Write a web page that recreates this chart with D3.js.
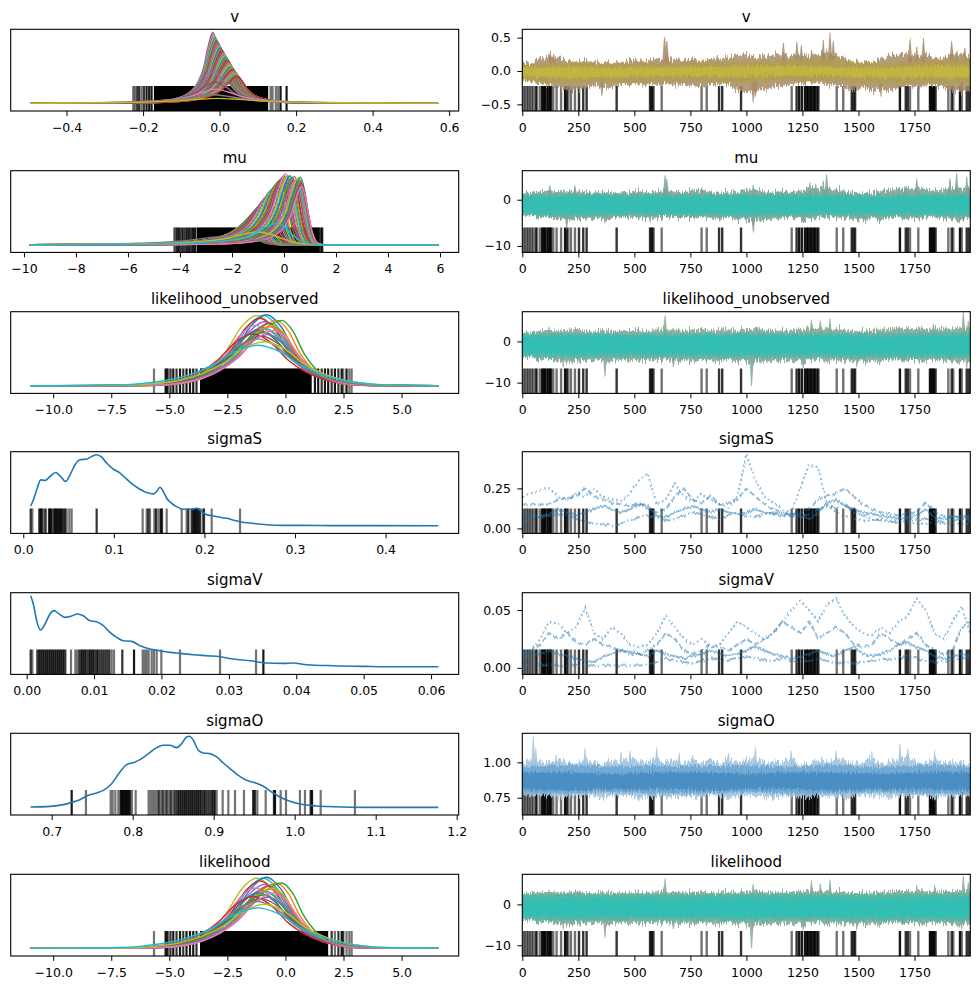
<!DOCTYPE html>
<html><head><meta charset="utf-8">
<script src="https://cdn.jsdelivr.net/npm/d3@7"></script>
<style>body{margin:0;background:#fff}text{font-family:"DejaVu Sans",sans-serif;fill:#000}</style>
</head><body>
<svg id="c" width="980" height="989"></svg>
<script>
// ---------------- DATA ----------------
const titles = ["v","mu","likelihood_unobserved","sigmaS","sigmaV","sigmaO","likelihood"];
const traceXTicks = [0,250,500,750,1000,1250,1500,1750];

// divergent draws (iteration, number of overlapping chains)
const divIter = [5,12,20,27,34,42,49,60,66,79,89,95,101,109,116,124,128,138,153,173,191,198,205,217,235,253,272,287,421,570,577,585,622,800,823,878,892,976,1202,1224,1235,1247,1261,1270,1276,1285,1291,1300,1306,1315,1321,1403,1432,1470,1478,1485,1685,1711,1720,1730,1767,1819,1825,1831,1837,1844,1901,1916,1923,1953,1961,1983,1993];
const divCount = [1,1,1,1,1,1,1,2,1,1,3,3,3,2,3,3,2,1,1,1,3,2,1,1,1,2,2,2,2,2,3,2,1,1,1,2,2,2,1,2,3,3,3,3,3,3,3,3,3,2,2,1,1,2,2,2,3,2,2,1,1,3,3,3,3,2,1,2,1,3,1,2,2];

// trace envelope grids
const traceIter = [0,40,80,120,160,200,240,280,320,360,400,440,480,520,560,600,640,680,720,760,800,840,880,920,960,1000,1040,1080,1120,1160,1200,1240,1280,1320,1360,1400,1440,1480,1520,1560,1600,1640,1680,1720,1760,1800,1840,1880,1920,1960,1999];
const coreIter = [0,200,400,600,800,1000,1200,1400,1600,1800,1999];

// v trace
const vOuterUpper = [0.11,0.12,0.18,0.22,0.2,0.15,0.14,0.15,0.14,0.12,0.14,0.13,0.15,0.14,0.16,0.18,0.2,0.18,0.16,0.17,0.15,0.18,0.2,0.22,0.25,0.25,0.2,0.22,0.25,0.25,0.22,0.25,0.22,0.25,0.3,0.22,0.18,0.12,0.14,0.13,0.2,0.22,0.25,0.25,0.22,0.25,0.2,0.2,0.25,0.25,0.22];
const vOuterLower = [-0.12,-0.13,-0.2,-0.22,-0.25,-0.28,-0.3,-0.25,-0.22,-0.25,-0.25,-0.2,-0.2,-0.19,-0.22,-0.2,-0.2,-0.22,-0.2,-0.22,-0.25,-0.2,-0.2,-0.22,-0.3,-0.32,-0.3,-0.28,-0.25,-0.22,-0.2,-0.18,-0.2,-0.18,-0.2,-0.22,-0.25,-0.3,-0.25,-0.3,-0.28,-0.3,-0.25,-0.22,-0.25,-0.22,-0.2,-0.25,-0.3,-0.3,-0.3];
const vMidUpper = [0.1,0.12,0.11,0.12,0.13,0.14,0.18,0.16,0.12,0.15,0.18];
const vMidLower = [-0.15,-0.18,-0.17,-0.16,-0.16,-0.18,-0.15,-0.16,-0.2,-0.18,-0.2];
const vCoreUpper = [0.05,0.06,0.05,0.06,0.06,0.07,0.08,0.06,0.05,0.07,0.08];
const vCoreLower = [-0.08,-0.1,-0.09,-0.08,-0.08,-0.09,-0.07,-0.08,-0.1,-0.09,-0.1];
const vSpikeIter = [125,140,635,645,1165,1225,1245,1290,1343,1373,1388,1730,1760,1790,1916,1940,1975];
const vSpikeVal = [0.3,0.27,0.52,0.45,0.42,0.44,0.4,0.3,0.45,0.57,0.45,0.47,0.35,0.49,0.45,0.3,0.35];
const vDipIter = [355,1030,1040,1600,1960];
const vDipVal = [-0.39,-0.46,-0.4,-0.38,-0.4];

// mu trace
const muOuterUpper = [1.4,1.5,1.8,2,1.9,1.8,2,1.6,1.5,1.8,1.4,1.6,1.5,2,1.6,1.8,2.2,1.8,1.6,2,2.2,1.6,1.5,1.8,1.6,2.2,2.2,1.8,1.6,2,1.5,2,2.5,2.5,2.5,2.2,1.8,1.5,1.4,1.6,2,2.2,2.3,2.5,2.5,2.3,2,2.2,2.5,2.5,2.5];
const muOuterLower = [-2.5,-3,-3.5,-3.8,-4,-4.5,-4,-4.2,-4,-4.5,-4,-3.5,-3.6,-3.8,-4.2,-4,-3.6,-3.8,-3.6,-3.8,-4,-3.8,-4.2,-3.8,-4.2,-4.5,-4.8,-4.5,-4,-3.8,-3.6,-4.2,-4.5,-4,-3.6,-3.8,-4,-4.2,-4.5,-4,-4.2,-4,-3.8,-4,-4.2,-3.6,-3.8,-4,-4.2,-4.5,-4];
const muMidUpper = [1.2,1.3,1.2,1.3,1.2,1.3,1.3,1.2,1.2,1.3,1.3];
const muMidLower = [-3.5,-3.7,-3.6,-3.5,-3.6,-3.8,-3.6,-3.6,-3.7,-3.6,-3.7];
const muCoreUpper = [0.7,0.8,0.7,0.8,0.7,0.8,0.8,0.7,0.7,0.8,0.8];
const muCoreLower = [-2.8,-3,-2.9,-2.8,-2.9,-3.1,-2.9,-2.9,-3,-2.9,-3];
const muSpikeIter = [123,235,637,645,800,1030,1283,1310,1343,1358,1708,1760,1908,1938,1983];
const muSpikeVal = [3.2,3.0,5.4,4.5,2.9,3.2,3.9,3.5,3.9,5.7,3.0,4.3,4.6,5.7,5.0];
const muDipIter = [198,369,570,882,1031,1254,1500,1968];
const muDipVal = [-6.4,-5,-4.8,-4.6,-7.1,-5,-5,-4.8];

// likelihood_unobserved trace
const luOuterUpper = [2,2.2,2.6,2.8,2.5,2.8,3,2.5,2.2,2.8,2.4,2.6,2.5,2.8,2.4,2.8,3,2.8,2.5,2.8,3,2.6,2.8,3,2.5,3,3,2.8,2.5,2.8,2.6,3,3.2,3.2,3.2,3,2.8,2.5,2.6,2.8,3,3.2,3.2,3.2,3.2,3,3.2,3,3.2,3.2,3.2];
const luOuterLower = [-3.5,-4,-4.2,-4.5,-4.6,-5,-4.6,-4.8,-4.5,-5,-4.8,-4.5,-4.4,-4.6,-4.8,-4.5,-4.4,-5,-4.5,-4.6,-4.8,-4.5,-5,-4.6,-4.8,-5,-5.2,-5,-4.6,-4.5,-4.6,-5,-4.8,-4.5,-4.6,-4.5,-4.8,-5,-4.8,-5,-4.6,-4.5,-4.7,-4.5,-4.6,-4.8,-4.5,-4.6,-4.8,-5,-5];
const luMidUpper = [1.9,2,1.9,2,2,2.1,2,2.1,2,2.2,2.2];
const luMidLower = [-3.8,-4,-3.9,-3.9,-4,-4.1,-3.9,-4,-4.1,-4,-4.1];
const luCoreUpper = [1.2,1.3,1.2,1.3,1.3,1.4,1.3,1.3,1.2,1.4,1.3];
const luCoreLower = [-2.9,-3.1,-3,-3,-3.1,-3.2,-3,-3.1,-3.2,-3.1,-3.2];
const luSpikeIter = [120,637,1050,1290,1330,1373,1834,1968,1990];
const luSpikeVal = [3.5,6.4,3.5,5,5,5.5,4.3,6.8,5];
const luDipIter = [183,369,674,1023,1254,1492,1983];
const luDipVal = [-6.3,-8.4,-6.2,-10.8,-6.5,-6,-6.5];

// likelihood trace
const lkOuterUpper = [2.7,2.8,3,3.1,2.8,3,3.1,2.8,2.7,3,2.8,2.8,2.7,3,2.8,3,3.2,3,2.8,3,3.1,2.8,3,3.1,2.8,3.2,3.2,3,2.8,3.1,2.8,3.2,3.3,3.3,3.3,3.1,3,2.8,2.8,3,3.1,3.3,3.2,3.3,3.3,3.2,3.3,3.1,3.3,3.3,3.3];
const lkOuterLower = [-3.5,-4,-4.2,-4.5,-4.6,-5,-4.6,-4.8,-4.5,-5,-4.8,-4.5,-4.4,-4.6,-4.8,-4.5,-4.4,-5,-4.5,-4.6,-4.8,-4.5,-5,-4.6,-4.8,-5,-5.2,-5,-4.6,-4.5,-4.6,-5,-4.8,-4.5,-4.6,-4.5,-4.8,-5,-4.8,-5,-4.6,-4.5,-4.7,-4.5,-4.6,-4.8,-4.5,-4.6,-4.8,-5,-5];
const lkMidUpper = [2.5,2.6,2.5,2.6,2.6,2.6,2.6,2.6,2.5,2.6,2.6];
const lkMidLower = [-3.8,-4,-3.9,-3.9,-4,-4.1,-3.9,-4,-4.1,-4,-4.1];
const lkCoreUpper = [1.5,1.6,1.5,1.6,1.6,1.7,1.6,1.6,1.5,1.7,1.6];
const lkCoreLower = [-2.9,-3.1,-3,-3,-3.1,-3.2,-3,-3.1,-3.2,-3.1,-3.2];
const lkSpikeIter = [120,637,1030,1290,1330,1373,1760,1840,1968,1990];
const lkSpikeVal = [3.5,6.4,5,5.6,5,6,4.5,4.5,6.8,5.5];
const lkDipIter = [183,369,674,1023,1254,1492,1960];
const lkDipVal = [-6,-8,-6,-10.8,-6.2,-6,-6.2];

// sigmaO trace
const soOuterUpper = [0.98,1.02,1.0,1.0,1.02,1.0,0.99,1.02,1.0,0.99,1.02,1.0,1.03,1.0,1.01,1.03,1.0,1.02,0.99,1.02,1.0,1.02,0.99,1.03,1.0,1.02,1.03,0.99,1.01,1.0,1.03,0.98,0.99,1.02,1.0,1.03,1.01,0.99,1.0,1.03,0.99,1.0,1.02,1.04,1.0,0.99,1.03,1.0,0.99,1.0,0.98];
const soOuterLower = [0.77,0.76,0.76,0.77,0.75,0.76,0.76,0.77,0.76,0.75,0.76,0.76,0.77,0.75,0.76,0.76,0.76,0.77,0.75,0.76,0.76,0.77,0.76,0.75,0.76,0.77,0.76,0.76,0.75,0.76,0.76,0.75,0.76,0.77,0.76,0.76,0.75,0.76,0.77,0.76,0.76,0.75,0.76,0.76,0.77,0.76,0.75,0.76,0.76,0.77,0.76];
const soMidUpper = [0.97,0.98,0.97,0.98,0.97,0.98,0.97,0.98,0.97,0.98,0.97];
const soMidLower = [0.78,0.78,0.79,0.78,0.78,0.79,0.78,0.78,0.79,0.78,0.78];
const soCoreUpper = [0.93,0.93,0.92,0.93,0.93,0.92,0.93,0.93,0.92,0.93,0.93];
const soCoreLower = [0.81,0.8,0.81,0.81,0.8,0.81,0.81,0.8,0.81,0.81,0.8];
const soSpikeIter = [49,60,150,280,440,480,600,700,760,920,1040,1200,1400,1560,1685,1720,1840];
const soSpikeVal = [1.18,1.1,1.05,1.1,1.08,1.08,1.1,1.07,1.05,1.08,1.1,1.08,1.08,1.08,1.13,1.1,1.08];
const soDipIter = [160,360,520,920,1120,1440,1640,1840];
const soDipVal = [0.72,0.73,0.72,0.73,0.73,0.73,0.73,0.73];

// sigmaS chains
const sS1 = [0.2,0.22,0.24,0.25,0.2,0.18,0.22,0.2,0.25,0.2,0.18,0.17,0.22,0.3,0.34,0.15,0.18,0.28,0.2,0.17,0.22,0.18,0.15,0.13,0.2,0.46,0.3,0.2,0.16,0.12,0.1,0.25,0.4,0.38,0.15,0.1,0.08,0.06,0.05,0.05,0.06,0.05,0.05,0.04,0.03,0.03,0.03,0.03,0.03,0.03,0.03];
const sS2 = [0.15,0.15,0.15,0.15,0.18,0.19,0.2,0.25,0.2,0.18,0.16,0.15,0.14,0.16,0.12,0.1,0.12,0.2,0.25,0.18,0.16,0.2,0.15,0.16,0.18,0.25,0.2,0.15,0.12,0.1,0.09,0.1,0.12,0.18,0.2,0.22,0.25,0.2,0.15,0.12,0.1,0.09,0.08,0.09,0.1,0.16,0.1,0.08,0.07,0.08,0.07];
const sS3 = [0.1,0.08,0.07,0.09,0.12,0.1,0.08,0.1,0.12,0.14,0.12,0.1,0.12,0.15,0.14,0.08,0.07,0.1,0.12,0.14,0.12,0.1,0.12,0.1,0.09,0.1,0.12,0.1,0.09,0.08,0.09,0.08,0.06,0.1,0.16,0.18,0.14,0.12,0.1,0.09,0.08,0.07,0.06,0.07,0.08,0.12,0.07,0.06,0.08,0.06,0.07];
const sS4 = [0.05,0.06,0.07,0.08,0.09,0.08,0.06,0.04,0.03,0.025,0.02,0.03,0.05,0.07,0.08,0.07,0.05,0.06,0.08,0.1,0.09,0.07,0.06,0.08,0.09,0.08,0.07,0.09,0.1,0.09,0.08,0.07,0.09,0.12,0.14,0.13,0.15,0.1,0.08,0.06,0.05,0.04,0.04,0.06,0.05,0.06,0.05,0.04,0.05,0.06,0.05];
// sigmaV chains
const sV1 = [0.01,0.015,0.025,0.04,0.038,0.03,0.035,0.052,0.03,0.025,0.035,0.03,0.02,0.018,0.02,0.03,0.045,0.035,0.025,0.02,0.025,0.018,0.02,0.03,0.04,0.035,0.03,0.025,0.03,0.04,0.05,0.058,0.05,0.04,0.055,0.06,0.045,0.035,0.03,0.028,0.035,0.03,0.04,0.045,0.06,0.05,0.03,0.025,0.04,0.053,0.03];
const sV2 = [0.012,0.015,0.02,0.03,0.025,0.03,0.022,0.02,0.025,0.02,0.018,0.015,0.012,0.012,0.015,0.02,0.03,0.025,0.015,0.012,0.015,0.02,0.018,0.015,0.02,0.025,0.02,0.025,0.03,0.04,0.035,0.03,0.04,0.025,0.03,0.035,0.03,0.02,0.018,0.02,0.03,0.025,0.02,0.025,0.03,0.02,0.015,0.012,0.015,0.035,0.04];
const sV3 = [0.01,0.01,0.012,0.015,0.012,0.01,0.008,0.006,0.005,0.01,0.012,0.015,0.014,0.012,0.01,0.015,0.012,0.01,0.008,0.01,0.012,0.015,0.012,0.01,0.012,0.015,0.018,0.015,0.012,0.01,0.008,0.01,0.012,0.015,0.012,0.01,0.015,0.018,0.012,0.01,0.012,0.015,0.02,0.022,0.018,0.015,0.01,0.008,0.01,0.012,0.01];
const sV4 = [0.004,0.003,0.003,0.002,0.002,0.002,0.002,0.002,0.002,0.002,0.002,0.002,0.002,0.002,0.003,0.005,0.008,0.006,0.005,0.004,0.006,0.008,0.007,0.006,0.008,0.01,0.008,0.007,0.006,0.008,0.006,0.005,0.006,0.008,0.006,0.004,0.005,0.004,0.005,0.006,0.008,0.007,0.008,0.01,0.008,0.006,0.005,0.006,0.007,0.008,0.008];

// KDE single curves (x, relative density)
const sSkdeX = [0.0081,0.0111,0.0148,0.0192,0.0240,0.0295,0.0357,0.0405,0.0468,0.0516,0.0571,0.0626,0.0700,0.0755,0.0810,0.0865,0.0920,0.0994,0.1068,0.1141,0.1215,0.1288,0.1362,0.1436,0.1472,0.1509,0.1546,0.1583,0.1638,0.1693,0.1748,0.1804,0.1859,0.1914,0.1951,0.2006,0.2098,0.2245,0.2392,0.2540,0.2687,0.2871,0.3055,0.3423,0.3791,0.4582];
const sSkdeY = [0.278,0.363,0.505,0.646,0.637,0.693,0.750,0.703,0.623,0.717,0.858,0.929,0.939,0.976,1.0,0.967,0.882,0.797,0.741,0.656,0.575,0.514,0.467,0.448,0.481,0.542,0.481,0.387,0.316,0.269,0.236,0.231,0.231,0.245,0.222,0.165,0.137,0.104,0.057,0.033,0.014,0.005,0.005,0.002,0.001,0.0];
const sVkdeX = [0.00059,0.00099,0.00148,0.00208,0.00272,0.00346,0.00405,0.00469,0.00568,0.00667,0.00751,0.0084,0.00939,0.01038,0.01137,0.01236,0.01335,0.01434,0.01558,0.01681,0.0183,0.01978,0.02127,0.02275,0.02473,0.02671,0.02869,0.03067,0.03314,0.03561,0.03809,0.03957,0.04155,0.04551,0.05046,0.0554,0.06109];
const sVkdeY = [1.0,0.883,0.648,0.516,0.601,0.742,0.789,0.751,0.695,0.714,0.742,0.718,0.648,0.634,0.577,0.484,0.413,0.366,0.357,0.296,0.249,0.225,0.202,0.188,0.169,0.155,0.141,0.108,0.085,0.052,0.047,0.052,0.028,0.014,0.005,0.0,0.0];
const sOkdeX = [0.674,0.698,0.7144,0.7247,0.7349,0.7452,0.7555,0.7637,0.774,0.7843,0.7926,0.8008,0.809,0.8193,0.8296,0.8378,0.846,0.8543,0.8604,0.8666,0.8699,0.8749,0.881,0.8872,0.8954,0.9037,0.9119,0.9201,0.9304,0.9407,0.951,0.9613,0.9716,0.9819,0.9942,1.0066,1.0271,1.0477,1.0888,1.1773];
const sOkdeY = [0.005,0.014,0.038,0.07,0.108,0.169,0.202,0.239,0.333,0.498,0.601,0.629,0.671,0.756,0.84,0.873,0.873,0.84,0.897,0.99,1.0,0.944,0.803,0.765,0.756,0.709,0.624,0.545,0.451,0.38,0.347,0.296,0.216,0.146,0.085,0.047,0.019,0.009,0.0,0.0];

// KDE rugs (divergent sample values, overlap count)
const sSrug = [0.00813,0.00997,0.0177,0.01917,0.02064,0.02285,0.02469,0.02837,0.02948,0.03132,0.0339,0.03537,0.03684,0.03868,0.04052,0.04236,0.0442,0.04604,0.04788,0.05082,0.0534,0.081,0.1318,0.13622,0.13806,0.1399,0.14469,0.14653,0.14911,0.15168,0.15316,0.15831,0.17487,0.18039,0.18223,0.18591,0.18775,0.18959,0.19143,0.19327,0.19511,0.19806,0.19953,0.208,0.23928];
const sSrugN = [2,1,2,3,2,1,2,2,3,3,2,3,3,3,3,3,2,2,1,1,1,2,1,1,2,1,1,2,1,3,2,1,1,1,2,2,3,3,3,3,2,1,2,1,1];
const sVrug = [0.00059,0.00084,0.00158,0.00187,0.00217,0.00247,0.00277,0.00306,0.00336,0.00366,0.00395,0.00425,0.00455,0.00484,0.00514,0.00544,0.00573,0.00658,0.00722,0.00751,0.00781,0.00811,0.0084,0.0087,0.009,0.0093,0.00959,0.00989,0.01019,0.01048,0.01078,0.01108,0.01137,0.01167,0.01197,0.01226,0.01261,0.01296,0.01419,0.01593,0.01721,0.01751,0.0178,0.0181,0.01855,0.01889,0.01929,0.01998,0.02275,0.02869,0.03403,0.03512];
const sVrugN = [2,1,2,3,3,3,3,3,3,3,3,3,3,3,3,3,2,1,1,1,2,3,3,3,2,3,3,3,2,3,2,2,2,2,2,2,1,1,2,3,1,1,1,1,1,1,1,1,1,1,1,3];
const sOrug = [0.7247,0.7423,0.7728,0.7753,0.7786,0.7823,0.7851,0.7868,0.7884,0.7901,0.7917,0.7934,0.795,0.7967,0.7991,0.8037,0.8197,0.8222,0.8247,0.8271,0.8296,0.8321,0.8345,0.837,0.8395,0.8419,0.8444,0.8469,0.8493,0.8518,0.8543,0.8567,0.8592,0.8617,0.8642,0.8666,0.8691,0.8716,0.874,0.8765,0.879,0.8814,0.8839,0.8864,0.8888,0.8913,0.8938,0.8963,0.8987,0.9012,0.9037,0.9111,0.9181,0.9263,0.9374,0.9489,0.951,0.9539,0.9642,0.9744,0.9757,0.9827,0.9893,1.0065,1.0127,1.0197,1.0214,1.0321,1.0744];
const sOrugN = [3,1,1,1,1,1,3,3,3,3,3,3,3,2,1,1,1,1,1,1,1,2,1,2,1,2,1,2,1,2,2,3,3,3,3,3,3,3,3,3,3,3,3,2,3,2,2,2,3,3,1,1,1,1,1,3,2,1,1,2,3,1,1,1,1,2,3,1,1];
const vRug = [-0.2257,-0.2214,-0.2153,-0.2101,-0.2039,-0.1979,-0.1909,-0.184,-0.1778,0.1333,0.1385,0.1471,0.1532,0.1594,0.1751];
const vRugN = [1,1,2,2,1,2,3,3,3,1,1,1,1,3,3];
const vRugBlock = [-0.1717,0.127];
const muRug = [-4.22,-4.17,-4.12,-4.05,-3.98,-3.9,-3.82,-3.74,-3.66,-3.58,-3.5,-3.42,1.42,1.47];
const muRugN = [1,1,2,3,2,3,2,3,3,2,3,3,2,3];
const muRugBlock = [-3.36,1.38];
const luRug = [-5.66,-5.16,-5.1,-5.05,-4.95,-4.83,-4.69,-4.54,-4.4,-4.26,-4.11,-3.97,-3.83,1.27,1.41,1.56,1.7,1.84,1.99,2.13,2.28,2.42,2.49,2.63,2.75,2.85];
const luRugN = [1,3,2,1,2,3,2,3,2,3,3,3,2,3,3,2,3,3,2,3,2,3,1,3,1,1];
const luRugBlock = [-3.68,1.13];
const lkRug = [-5.66,-5.16,-5.1,-5.05,-4.95,-4.83,-4.69,-4.54,-4.4,-4.26,-4.11,-3.97,-3.83,1.99,2.13,2.28,2.42,2.49,2.63,2.75,2.85];
const lkRugN = [1,3,2,1,2,3,2,3,2,3,3,3,2,2,1,2,3,2,1,1,1];
const lkRugBlock = [-3.68,1.84];

// multi-component KDEs: peak location, peak height, half-widths (left/right)
const vPeakX = [-0.018,-0.017,-0.016,-0.015,-0.013,-0.012,-0.011,-0.01,-0.008,-0.007,-0.006,-0.004,-0.003,-0.002,0.0,0.001,0.002,0.004,0.005,0.006,0.008,0.009,0.011,0.012,0.013,0.015,0.016,0.018,0.019,0.02,0.022,0.023,0.025,0.026,0.027,0.029,0.03,0.032,0.033,0.034,0.036,0.037,0.038,0.04,0.041,0.042,0.043,0.044,0.045,0.046,-0.015,-0.012,-0.01,-0.018,-0.005];
const vPeakH = [1.0,0.98,0.97,0.95,0.94,0.93,0.91,0.9,0.88,0.87,0.86,0.84,0.83,0.82,0.8,0.79,0.78,0.76,0.75,0.74,0.72,0.71,0.7,0.68,0.67,0.66,0.64,0.63,0.62,0.6,0.59,0.58,0.56,0.55,0.54,0.52,0.51,0.5,0.48,0.47,0.46,0.45,0.44,0.43,0.42,0.41,0.4,0.4,0.39,0.38,0.45,0.3,0.2,0.12,0.07];
const vHalfL = [0.024,0.024,0.025,0.025,0.025,0.026,0.026,0.026,0.027,0.027,0.027,0.028,0.028,0.028,0.029,0.029,0.029,0.03,0.03,0.03,0.031,0.031,0.031,0.032,0.032,0.032,0.033,0.033,0.033,0.034,0.034,0.034,0.035,0.035,0.035,0.036,0.036,0.036,0.037,0.037,0.037,0.037,0.038,0.038,0.038,0.038,0.039,0.039,0.039,0.039,0.035,0.05,0.065,0.085,0.11];
const vHalfR = [0.026,0.026,0.026,0.026,0.026,0.026,0.026,0.027,0.027,0.027,0.027,0.027,0.027,0.027,0.027,0.027,0.027,0.027,0.028,0.028,0.028,0.028,0.028,0.028,0.028,0.028,0.028,0.028,0.028,0.028,0.028,0.028,0.028,0.028,0.028,0.028,0.028,0.028,0.028,0.028,0.028,0.028,0.028,0.028,0.028,0.028,0.028,0.028,0.028,0.028,0.035,0.05,0.065,0.085,0.11];
const muPeakX = [-1.6,-1.52,-1.45,-1.38,-1.3,-1.23,-1.16,-1.08,-1.0,-0.93,-0.86,-0.78,-0.7,-0.63,-0.55,-0.48,-0.4,-0.34,-0.28,-0.22,-0.16,-0.1,-0.05,0.0,0.05,0.1,0.14,0.19,0.23,0.28,0.32,0.36,0.4,0.44,0.47,0.5,0.53,0.56,0.59,0.61,0.63,0.64,0.65,0.66,0.67,-2.2,-1.0,-0.3];
const muPeakH = [0.19,0.21,0.24,0.27,0.31,0.35,0.39,0.43,0.48,0.52,0.56,0.6,0.65,0.69,0.73,0.77,0.8,0.83,0.86,0.89,0.91,0.93,0.95,0.97,1.0,0.96,0.98,0.94,0.97,0.92,0.95,0.9,0.96,0.88,0.93,0.9,0.94,0.86,0.92,0.88,0.95,0.84,0.9,0.87,0.82,0.12,0.18,0.3];
const muHalfL = [0.9,0.88,0.86,0.84,0.82,0.8,0.78,0.76,0.74,0.72,0.7,0.68,0.66,0.64,0.62,0.6,0.58,0.57,0.56,0.55,0.54,0.53,0.52,0.51,0.5,0.5,0.49,0.49,0.48,0.48,0.47,0.47,0.46,0.46,0.45,0.45,0.45,0.44,0.44,0.44,0.43,0.43,0.43,0.42,0.42,1.5,1.2,0.9];
const muHalfR = [0.5,0.5,0.49,0.48,0.47,0.46,0.45,0.44,0.43,0.42,0.41,0.4,0.39,0.38,0.37,0.36,0.35,0.34,0.33,0.32,0.34,0.33,0.33,0.32,0.32,0.32,0.31,0.31,0.31,0.3,0.3,0.3,0.3,0.3,0.29,0.29,0.29,0.29,0.29,0.28,0.28,0.28,0.28,0.28,0.28,1.3,0.9,0.6];
const lkPeakX = [-1.24,-0.96,-0.81,-0.38,-0.16,-1.1,-0.9,-0.7,-1.3,-1.0,-0.55,-0.85,-1.15,-0.65,-0.95,-1.4,-0.75,-1.05,-0.5,-1.2,-0.9,-1.17];
const lkPeakH = [0.99,0.99,1.0,0.92,0.92,0.95,0.9,0.88,0.85,0.82,0.85,0.8,0.78,0.83,0.75,0.73,0.72,0.7,0.78,0.66,0.62,0.57];
const lkHalfL = [1.3,1.3,1.35,1.6,1.7,1.3,1.35,1.4,1.3,1.4,1.5,1.4,1.45,1.45,1.5,1.5,1.55,1.6,1.55,1.7,1.8,2.0];
const lkHalfR = [1.35,1.25,1.2,1.0,0.95,1.3,1.25,1.15,1.4,1.3,1.1,1.3,1.4,1.2,1.4,1.5,1.3,1.5,1.15,1.6,1.7,1.85];
// KDE profile shapes (offset in half-widths, relative height)
const heavyOff = [0.5,1,1.6,2.3,3.2,4.5,6.5,9,13], heavyH = [0.8,0.5,0.3,0.18,0.1,0.05,0.02,0.006,0.001];
const gaussOff = [0.5,1,1.5,2,2.5,3], gaussH = [0.84,0.5,0.21,0.0625,0.013,0.002];
const midOff = [0.5,1,1.5,2,2.5,3,4,5.5], midH = [0.84,0.5,0.27,0.13,0.055,0.02,0.004,0.0005];

// ---------------- DRAWING ----------------
const tab10 = ["#1f77b4","#ff7f0e","#2ca02c","#d62728","#9467bd","#8c564b","#e377c2","#7f7f7f","#bcbd22","#17becf"];
const COLX = [10.7, 522.3], PW = 448, PH = 81.7;
const ROWY = [29.3,170.7,311.7,451.7,592.7,733.3,874.3];
const FS = 12.5, TFS = 15, RUGH = 25;
const svg = d3.select("#c");
const defs = svg.append("defs");
const minus = s => s.replace("-", "\u2212");

// jitter filters give the sampled traces their noisy texture (purely visual)
function jitterFilter(id, freq, scale, seed) {
  const f = defs.append("filter").attr("id", id).attr("x", "-2%").attr("y", "-40%")
    .attr("width", "104%").attr("height", "180%").attr("color-interpolation-filters", "sRGB");
  f.append("feTurbulence").attr("type", "fractalNoise").attr("baseFrequency", freq)
    .attr("numOctaves", 2).attr("seed", seed).attr("result", "t");
  f.append("feColorMatrix").attr("in", "t").attr("type", "matrix")
    .attr("values", "0 0 0 0 0.5  1 0 0 0 0  0 0 0 0 0  0 0 0 0 1").attr("result", "m");
  f.append("feDisplacementMap").attr("in", "SourceGraphic").attr("in2", "m").attr("scale", scale)
    .attr("xChannelSelector", "R").attr("yChannelSelector", "G");
}
jitterFilter("jagBig", "0.7 0.05", 14, 3);
jitterFilter("jagMid", "0.7 0.05", 9, 8);
jitterFilter("jagSpike", "0.5 0.02", 5, 11);
jitterFilter("jagLine", "0.6 0.1", 4.5, 5);

function makePanel(col, row) {
  const id = `clip${col}_${row}`;
  defs.append("clipPath").attr("id", id).append("rect").attr("width", PW).attr("height", PH);
  const g = svg.append("g").attr("transform", `translate(${COLX[col]},${ROWY[row]})`);
  const inner = g.append("g").attr("clip-path", `url(#${id})`);
  g.append("text").attr("x", PW/2).attr("y", -7.5).attr("text-anchor", "middle")
    .style("font-size", TFS + "px").text(titles[row]);
  return {g, inner};
}
function finishAxis(sel) {
  sel.select(".domain").remove();
  sel.selectAll(".tick line").attr("stroke", "#000").attr("stroke-width", 1);
  sel.selectAll(".tick text").style("font-size", FS + "px").style("font-family", '"DejaVu Sans",sans-serif').attr("fill", "#000");
}
function frame(g) {
  g.append("rect").attr("width", PW).attr("height", PH).attr("fill", "none").attr("stroke", "#000").attr("stroke-width", 1.1);
}
function xAxis(g, x, ticks, fmt) {
  const a = g.append("g").attr("transform", `translate(0,${PH})`)
    .call(d3.axisBottom(x).tickValues(ticks).tickFormat(fmt).tickSize(4.9).tickPadding(7.3));
  finishAxis(a);
}
const rugOpacity = n => 1 - Math.pow(0.45, n);

function curvePoints(px, ph, wl, wr, pL, pR, xmin, xmax) {
  const pts = [[xmin, 0]];
  for (let k = pL[0].length - 1; k >= 0; k--) {
    const xv = px - pL[0][k] * wl;
    if (xv > xmin) pts.push([xv, ph * pL[1][k]]);
  }
  pts.push([px, ph]);
  for (let k = 0; k < pR[0].length; k++) {
    const xv = px + pR[0][k] * wr;
    if (xv < xmax) pts.push([xv, ph * pR[1][k]]);
  }
  pts.push([xmax, 0]);
  return pts;
}

function kdePanel(row, cfg) {
  const {g, inner} = makePanel(0, row);
  const x = d3.scaleLinear().domain(cfg.xDomain).range([0, PW]);
  const y = d3.scaleLinear().domain([-0.108, 1.042]).range([PH, 0]);
  if (cfg.rugBlock) {
    inner.append("rect").attr("x", x(cfg.rugBlock[0])).attr("width", x(cfg.rugBlock[1]) - x(cfg.rugBlock[0]))
      .attr("y", PH - RUGH).attr("height", RUGH).attr("fill", "#000");
  }
  inner.selectAll("line.rug").data(cfg.rug).join("line").attr("class", "rug")
    .attr("x1", d => x(d)).attr("x2", d => x(d)).attr("y1", PH).attr("y2", PH - RUGH)
    .attr("stroke", "#000").attr("stroke-width", 2.2).attr("stroke-opacity", (d, i) => rugOpacity(cfg.rugN[i]));
  const line = d3.line().x(d => x(d[0])).y(d => y(d[1])).curve(d3.curveMonotoneX);
  if (cfg.single) {
    inner.append("path").attr("d", line(d3.zip(cfg.single[0], cfg.single[1])))
      .attr("fill", "none").attr("stroke", tab10[0]).attr("stroke-width", 1.6);
  } else {
    const m = cfg.multi, N = m.px.length;
    const shift = ((cfg.lastColor - (N - 1)) % 10 + 100) % 10;
    for (let i = 0; i < N; i++) {
      const pts = curvePoints(m.px[i], m.ph[i], m.wl[i], m.wr[i], cfg.profL, cfg.profR, cfg.dataRange[0], cfg.dataRange[1]);
      inner.append("path").attr("d", line(pts)).attr("fill", "none")
        .attr("stroke", tab10[(i + shift) % 10]).attr("stroke-width", 1.4);
    }
  }
  xAxis(g, x, cfg.ticks, (d, i) => minus(cfg.labels[i]));
  frame(g);
}

function tracePanel(row, cfg) {
  const {g, inner} = makePanel(1, row);
  const x = d3.scaleLinear().domain([0, 1999]).range([0, PW]);
  const y = d3.scaleLinear().domain(cfg.yDomain).range([PH, 0]);
  inner.selectAll("line.div").data(divIter).join("line").attr("class", "div")
    .attr("x1", d => x(d)).attr("x2", d => x(d)).attr("y1", PH).attr("y2", PH - RUGH)
    .attr("stroke", "#000").attr("stroke-width", 2.4).attr("stroke-opacity", (d, i) => rugOpacity(divCount[i]));
  if (cfg.bands) {
    const area = d3.area().x(d => x(d[0])).y0(d => y(d[1])).y1(d => y(d[2]));
    cfg.bands.forEach((b, k) => {
      if (k === 0 && cfg.spikes) {
        const sp = cfg.spikes;
        const sg = inner.append("g").attr("filter", "url(#jagSpike)");
        const tri = (it, v) => `M${x(it - 13)},${y(sp.base)}L${x(it - 2)},${y(v)}L${x(it + 2)},${y(v)}L${x(it + 13)},${y(sp.base)}Z`;
        sp.upIter.forEach((it, i) => sg.append("path").attr("d", tri(it, sp.upVal[i])).attr("fill", b.color).attr("fill-opacity", 0.85));
        sp.dnIter.forEach((it, i) => sg.append("path").attr("d", tri(it, sp.dnVal[i])).attr("fill", b.color).attr("fill-opacity", 0.85));
      }
      const bg = inner.append("g").attr("filter", k === 0 ? "url(#jagBig)" : "url(#jagMid)");
      bg.append("path").attr("d", area(d3.zip(b.iter, b.lo, b.hi))).attr("fill", b.color).attr("fill-opacity", b.op);
    });
  }
  if (cfg.chains) {
    const dashes = ["2 2.5", "5.5 2.4", null, "9.6 2.4 1.5 2.4"];
    const line = d3.line().x(d => x(d[0])).y(d => y(d[1]));
    const cg = inner.append("g").attr("filter", "url(#jagLine)");
    cfg.chains.forEach((c, k) => {
      cg.append("path").attr("d", line(d3.zip(traceIter, c))).attr("fill", "none")
        .attr("stroke", tab10[0]).attr("stroke-opacity", 0.5).attr("stroke-width", 2)
        .attr("stroke-dasharray", dashes[k]);
    });
  }
  xAxis(g, x, traceXTicks, d => String(d));
  const a = g.append("g").call(d3.axisLeft(y).tickValues(cfg.yTicks)
    .tickFormat((d, i) => minus(cfg.yLabels[i])).tickSize(4.9).tickPadding(6.4));
  finishAxis(a);
  frame(g);
}

// ----- left column: KDEs -----
const multiCfg = (px, ph, wl, wr) => ({px, ph, wl, wr});
kdePanel(0, {xDomain: [-0.546, 0.625], ticks: [-0.4,-0.2,0,0.2,0.4,0.6], labels: ["-0.4","-0.2","0.0","0.2","0.4","0.6"],
  rug: vRug, rugN: vRugN, rugBlock: vRugBlock, multi: multiCfg(vPeakX, vPeakH, vHalfL, vHalfR),
  profL: [heavyOff, heavyH], profR: [heavyOff, heavyH], dataRange: [-0.495, 0.571], lastColor: 8});
kdePanel(1, {xDomain: [-10.51, 6.72], ticks: [-10,-8,-6,-4,-2,0,2,4,6], labels: ["-10","-8","-6","-4","-2","0","2","4","6"],
  rug: muRug, rugN: muRugN, rugBlock: muRugBlock, multi: multiCfg(muPeakX, muPeakH, muHalfL, muHalfR),
  profL: [heavyOff, heavyH], profR: [gaussOff, gaussH], dataRange: [-9.77, 5.93], lastColor: 9});
kdePanel(2, {xDomain: [-11.83, 7.46], ticks: [-10,-7.5,-5,-2.5,0,2.5,5], labels: ["-10.0","-7.5","-5.0","-2.5","0.0","2.5","5.0"],
  rug: luRug, rugN: luRugN, rugBlock: luRugBlock, multi: multiCfg(lkPeakX, lkPeakH, lkHalfL, lkHalfR),
  profL: [midOff, midH], profR: [midOff, midH], dataRange: [-11.0, 6.58], lastColor: 9});
kdePanel(3, {xDomain: [-0.0139, 0.4807], ticks: [0,0.1,0.2,0.3,0.4], labels: ["0.0","0.1","0.2","0.3","0.4"],
  rug: sSrug, rugN: sSrugN, single: [sSkdeX, sSkdeY]});
kdePanel(4, {xDomain: [-0.00237, 0.0641], ticks: [0,0.01,0.02,0.03,0.04,0.05,0.06], labels: ["0.00","0.01","0.02","0.03","0.04","0.05","0.06"],
  rug: sVrug, rugN: sVrugN, single: [sVkdeX, sVkdeY]});
kdePanel(5, {xDomain: [0.6494, 1.2025], ticks: [0.7,0.8,0.9,1.0,1.1,1.2], labels: ["0.7","0.8","0.9","1.0","1.1","1.2"],
  rug: sOrug, rugN: sOrugN, single: [sOkdeX, sOkdeY]});
kdePanel(6, {xDomain: [-11.83, 7.46], ticks: [-10,-7.5,-5,-2.5,0,2.5,5], labels: ["-10.0","-7.5","-5.0","-2.5","0.0","2.5","5.0"],
  rug: lkRug, rugN: lkRugN, rugBlock: lkRugBlock, multi: multiCfg(lkPeakX, lkPeakH, lkHalfL, lkHalfR),
  profL: [midOff, midH], profR: [midOff, midH], dataRange: [-11.0, 6.58], lastColor: 9});

// ----- right column: traces -----
const band = (iter, lo, hi, color, op) => ({iter, lo, hi, color, op});
const spikes = (upIter, upVal, dnIter, dnVal, base) => ({upIter, upVal, dnIter, dnVal, base});
tracePanel(0, {yDomain: [-0.6, 0.625], yTicks: [-0.5,0,0.5], yLabels: ["-0.5","0.0","0.5"], bands: [
  band(traceIter, vOuterLower, vOuterUpper, "#a68a66", 0.85),
  band(coreIter, vMidLower, vMidUpper, "#b09d55", 0.95),
  band(coreIter, vCoreLower, vCoreUpper, "#c0b540", 1)],
  spikes: spikes(vSpikeIter, vSpikeVal, vDipIter, vDipVal, 0)});
tracePanel(1, {yDomain: [-11.4, 6.28], yTicks: [-10,0], yLabels: ["-10","0"], bands: [
  band(traceIter, muOuterLower, muOuterUpper, "#7fa291", 0.9),
  band(coreIter, muMidLower, muMidUpper, "#5bb3a5", 0.95),
  band(coreIter, muCoreLower, muCoreUpper, "#35bdb3", 1)],
  spikes: spikes(muSpikeIter, muSpikeVal, muDipIter, muDipVal, -1)});
tracePanel(2, {yDomain: [-12.6, 7.2], yTicks: [-10,0], yLabels: ["-10","0"], bands: [
  band(traceIter, luOuterLower, luOuterUpper, "#84a897", 0.9),
  band(coreIter, luMidLower, luMidUpper, "#58b5a8", 0.95),
  band(coreIter, luCoreLower, luCoreUpper, "#33beb4", 1)],
  spikes: spikes(luSpikeIter, luSpikeVal, luDipIter, luDipVal, -1)});
tracePanel(3, {yDomain: [-0.031, 0.479], yTicks: [0,0.25], yLabels: ["0.00","0.25"], chains: [sS1, sS2, sS3, sS4]});
tracePanel(4, {yDomain: [-0.0057, 0.065], yTicks: [0,0.05], yLabels: ["0.00","0.05"], chains: [sV1, sV2, sV3, sV4]});
tracePanel(5, {yDomain: [0.628, 1.205], yTicks: [0.75,1.0], yLabels: ["0.75","1.00"], bands: [
  band(traceIter, soOuterLower, soOuterUpper, "#a3c5e0", 0.9),
  band(coreIter, soMidLower, soMidUpper, "#72a8d2", 0.95),
  band(coreIter, soCoreLower, soCoreUpper, "#4a8ec4", 1)],
  spikes: spikes(soSpikeIter, soSpikeVal, soDipIter, soDipVal, 0.87)});
tracePanel(6, {yDomain: [-12.63, 7.37], yTicks: [-10,0], yLabels: ["-10","0"], bands: [
  band(traceIter, lkOuterLower, lkOuterUpper, "#84a897", 0.9),
  band(coreIter, lkMidLower, lkMidUpper, "#58b5a8", 0.95),
  band(coreIter, lkCoreLower, lkCoreUpper, "#33beb4", 1)],
  spikes: spikes(lkSpikeIter, lkSpikeVal, lkDipIter, lkDipVal, -1)});
</script>
</body></html>
